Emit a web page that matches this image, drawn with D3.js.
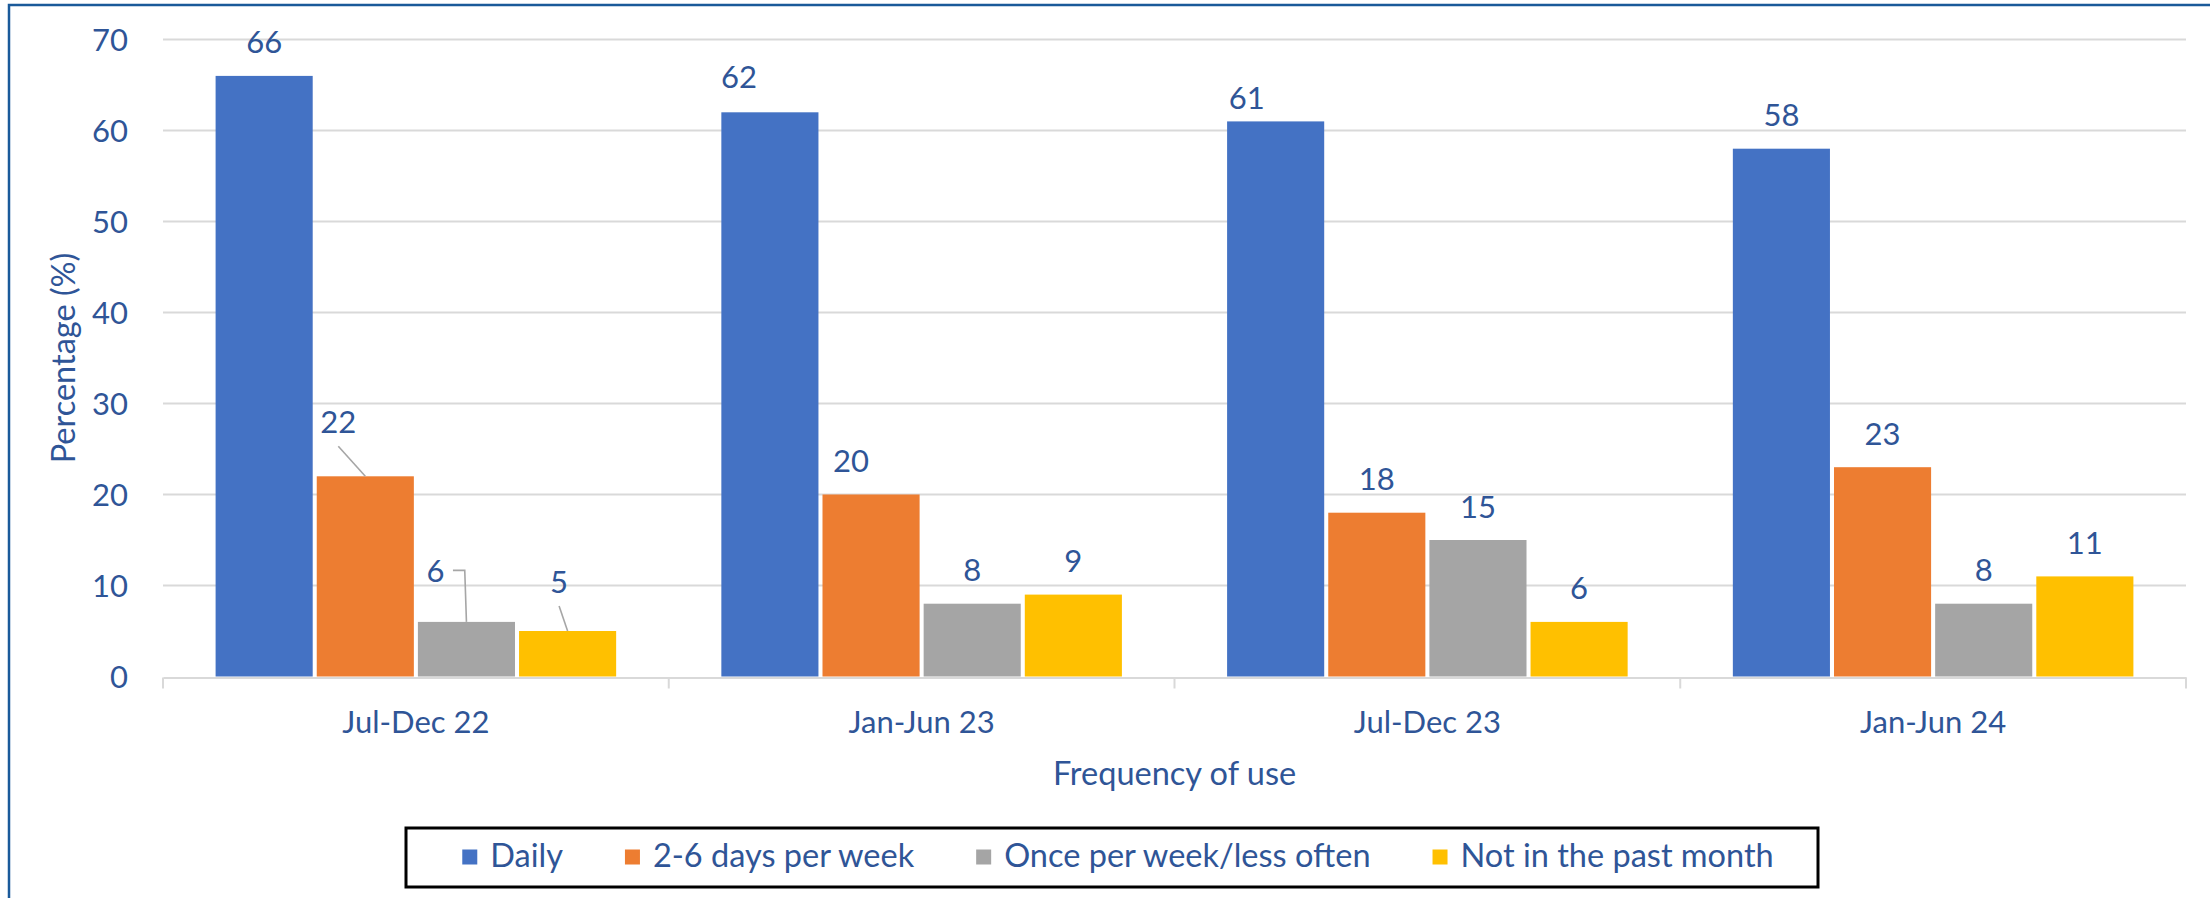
<!DOCTYPE html>
<html>
<head>
<meta charset="utf-8">
<script src="https://cdn.jsdelivr.net/npm/d3@7"></script>
<style>
  body { margin: 0; background: #fff; }
  text { font-family: Lato, 'Open Sans', sans-serif; fill: #2f5597; }
</style>
</head>
<body>
<script>
// data
const categories = ['Jul-Dec 22', 'Jan-Jun 23', 'Jul-Dec 23', 'Jan-Jun 24'];
const seriesNames = ['Daily', '2-6 days per week', 'Once per week/less often', 'Not in the past month'];
const daily = [66, 62, 61, 58];
const twoToSixDays = [22, 20, 18, 23];
const oncePerWeek = [6, 8, 15, 8];
const notPastMonth = [5, 9, 6, 11];
const yTicks = [0, 10, 20, 30, 40, 50, 60, 70];

const colors = ['#4472c4', '#ed7d31', '#a5a5a5', '#ffc000'];
const seriesValues = [daily, twoToSixDays, oncePerWeek, notPastMonth];

// labels moved by hand in the original (catIndex-seriesIndex)
const labelNudge = {
  '0-1': {dx: -27, dy: -21, leader: 'straight'},
  '0-2': {dx: -31, dy: -17, leader: 'elbow'},
  '0-3': {dx: -8.5, dy: -16, leader: 'straight'},
  '1-0': {dx: -31, dy: -2},
  '1-1': {dx: -20, dy: 0},
  '2-0': {dx: -29, dy: 10}
};

const width = 2210;
const height = 898;
const fontSize = 31;
const wordSize = 32.5;
const plotLeft = 163, plotRight = 2186, plotTop = 39.5, plotBottom = 676.5;

const rows = [];
categories.forEach((c, i) => {
  seriesNames.forEach((s, j) => {
    rows.push({cat: c, series: s, value: seriesValues[j][i], i: i, j: j});
  });
});

const svg = d3.select('body')
  .append('svg')
  .attr('width', width)
  .attr('height', height);

// outer frame (only top & left edge visible in the picture)
svg.append('rect')
  .attr('x', 9)
  .attr('y', 5)
  .attr('width', width + 20)
  .attr('height', height + 20)
  .attr('fill', 'none')
  .attr('stroke', '#1a5a9a')
  .attr('stroke-width', 2.5);

const y = d3.scaleLinear().domain([0, 70]).range([plotBottom, plotTop]);
const x0 = d3.scaleBand().domain(categories).range([plotLeft, plotRight]);
const x1 = d3.scaleBand().domain(seriesNames).range([0, x0.bandwidth()])
  .paddingInner(0.04).paddingOuter(0.52);

// gridlines
svg.append('g')
  .selectAll('line')
  .data(yTicks.filter(t => t > 0))
  .enter()
  .append('line')
  .attr('x1', plotLeft)
  .attr('x2', plotRight)
  .attr('y1', d => y(d))
  .attr('y2', d => y(d))
  .attr('stroke', '#d9d9d9')
  .attr('stroke-width', 2);

// y axis labels
const yAxis = d3.axisLeft(y).tickValues(yTicks).tickSize(0).tickPadding(0);
const yg = svg.append('g')
  .attr('transform', 'translate(128,0)')
  .call(yAxis);
yg.select('.domain').remove();
yg.selectAll('text')
  .attr('font-size', fontSize)
  .attr('dy', '0.36em')
  .attr('fill', '#2f5597');

// x axis
const xAxis = d3.axisBottom(x0).tickSize(0).tickPadding(0);
const xg = svg.append('g')
  .attr('transform', 'translate(0,' + (plotBottom + 1) + ')')
  .call(xAxis);
xg.select('.domain')
  .attr('stroke', '#d9d9d9')
  .attr('stroke-width', 2);
xg.selectAll('text')
  .attr('font-size', fontSize)
  .attr('y', 55.5)
  .attr('dy', 0)
  .attr('fill', '#2f5597');

// category boundary ticks
svg.append('g')
  .selectAll('line')
  .data(categories.map(c => x0(c)).concat([plotRight]))
  .enter()
  .append('line')
  .attr('x1', d => d)
  .attr('x2', d => d)
  .attr('y1', plotBottom + 1)
  .attr('y2', plotBottom + 12)
  .attr('stroke', '#d9d9d9')
  .attr('stroke-width', 2);

// bars
svg.append('g')
  .selectAll('rect')
  .data(rows)
  .enter()
  .append('rect')
  .attr('x', d => x0(d.cat) + x1(d.series))
  .attr('y', d => y(d.value))
  .attr('width', x1.bandwidth())
  .attr('height', d => plotBottom - y(d.value))
  .attr('fill', d => colors[d.j]);

// data labels + leader lines
const labels = svg.append('g');
rows.forEach(d => {
  const cx = x0(d.cat) + x1(d.series) + x1.bandwidth() / 2;
  const barTop = y(d.value);
  const n = labelNudge[d.i + '-' + d.j] || {dx: 0, dy: 0};
  const lx = cx + n.dx;
  const ly = barTop - 22.5 + n.dy;
  labels.append('text')
    .attr('x', lx)
    .attr('y', ly)
    .attr('text-anchor', 'middle')
    .attr('font-size', fontSize)
    .text(d.value);
  if (n.leader === 'straight') {
    labels.append('path')
      .attr('d', d3.line()([[lx, ly + 13.5], [cx, barTop]]))
      .attr('stroke', '#a6a6a6')
      .attr('stroke-width', 1.6)
      .attr('fill', 'none');
  } else if (n.leader === 'elbow') {
    labels.append('path')
      .attr('d', d3.line()([[lx + 17.5, ly - 12], [cx - 1.7, ly - 12], [cx, barTop]]))
      .attr('stroke', '#a6a6a6')
      .attr('stroke-width', 1.6)
      .attr('fill', 'none');
  }
});

// axis titles
svg.append('text')
  .attr('x', (plotLeft + plotRight) / 2)
  .attr('y', 785)
  .attr('text-anchor', 'middle')
  .attr('font-size', wordSize)
  .text('Frequency of use');

svg.append('text')
  .attr('transform', 'translate(75,' + ((plotTop + plotBottom) / 2) + ') rotate(-90)')
  .attr('text-anchor', 'middle')
  .attr('font-size', wordSize)
  .text('Percentage (%)');

// legend
const legBox = {x: 406, y: 828, w: 1412, h: 59};
svg.append('rect')
  .attr('x', legBox.x)
  .attr('y', legBox.y)
  .attr('width', legBox.w)
  .attr('height', legBox.h)
  .attr('fill', '#fff')
  .attr('stroke', '#000')
  .attr('stroke-width', 3);

const legend = svg.append('g');
const items = legend.selectAll('g')
  .data(seriesNames)
  .enter()
  .append('g');
items.append('rect')
  .attr('width', 15)
  .attr('height', 15)
  .attr('y', -17)
  .attr('fill', (d, i) => colors[i]);
items.append('text')
  .attr('x', 28)
  .attr('font-size', wordSize)
  .text(d => d);

let cursor = 0;
const widths = [];
items.each(function() {
  const w = d3.select(this).select('text').node().getComputedTextLength() + 28;
  widths.push(w);
});
const gap = 62;
const total = d3.sum(widths) + gap * (widths.length - 1);
cursor = legBox.x + legBox.w / 2 - total / 2 + 6;
items.attr('transform', (d, i) => {
  const t = 'translate(' + cursor + ',866.5)';
  cursor += widths[i] + gap;
  return t;
});
</script>
</body>
</html>
